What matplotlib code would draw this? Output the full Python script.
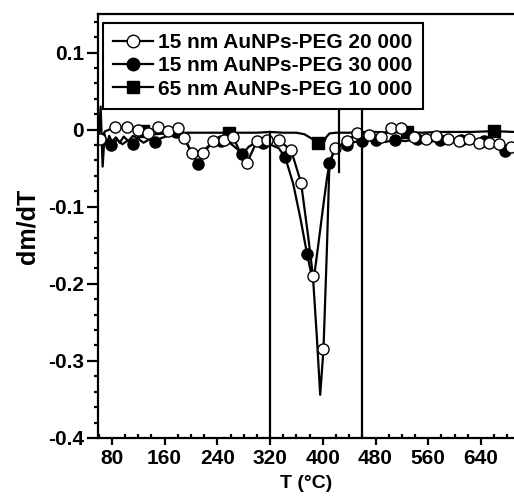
import matplotlib
matplotlib.use('Agg')
import matplotlib.pyplot as plt
from matplotlib.lines import Line2D
from matplotlib.ticker import MultipleLocator

plt.rcParams['font.family'] = ['Liberation Sans', 'DejaVu Sans']
plt.rcParams['font.weight'] = 'bold'

# 15 nm AuNPs-PEG 20 000 (open circles)
T_a = [62, 70, 85, 103, 120, 135, 150, 165, 181, 190, 201, 210, 219, 234, 250, 264, 275, 285,
       300, 315, 334, 352, 367, 378, 385, 391, 396, 401, 406, 410, 418, 437, 452, 470, 488, 503,
       518, 538, 556, 572, 590, 606, 622, 637, 652, 667, 685, 690]
y_a = [-0.012, -0.002, 0.003, 0.003, 0.0, -0.005, 0.003, -0.002, 0.002, -0.011, -0.03, -0.034,
       -0.03, -0.015, -0.013, -0.01, -0.03, -0.043, -0.015, -0.013, -0.014, -0.027, -0.069, -0.14,
       -0.19, -0.27, -0.344, -0.285, -0.16, -0.045, -0.024, -0.015, -0.004, -0.007, -0.009, 0.002,
       0.002, -0.009, -0.012, -0.008, -0.012, -0.015, -0.012, -0.017, -0.017, -0.019, -0.022, -0.02]
mark_T_a = [62, 85, 103, 120, 135, 150, 165, 181, 190, 201, 219, 234, 250, 264, 285, 300, 315,
            334, 352, 367, 385, 401, 418, 437, 452, 470, 488, 503, 518, 538, 556, 572, 590, 606,
            622, 637, 652, 667, 685]

# 15 nm AuNPs-PEG 30 000 (filled circles)
T_b = [62, 67, 72, 79, 88, 96, 104, 112, 120, 128, 136, 145, 155, 165, 178, 190, 200, 211, 222,
       233, 245, 260, 270, 277, 288, 300, 310, 322, 333, 343, 355, 366, 376, 382, 386, 390, 396,
       402, 406, 410, 418, 428, 437, 448, 460, 470, 480, 495, 510, 525, 543, 560, 577, 593, 610,
       627, 644, 662, 677, 690]
y_b = [-0.01, -0.022, -0.014, -0.02, -0.013, -0.019, -0.014, -0.018, -0.012, -0.017, -0.013,
       -0.016, -0.011, -0.008, -0.003, -0.012, -0.028, -0.045, -0.025, -0.016, -0.015, -0.018,
       -0.025, -0.032, -0.022, -0.016, -0.017, -0.02, -0.024, -0.036, -0.07, -0.115, -0.161,
       -0.185, -0.195, -0.17, -0.13, -0.09, -0.065, -0.043, -0.026, -0.02, -0.02, -0.016, -0.015,
       -0.012, -0.013, -0.016, -0.013, -0.015, -0.012, -0.016, -0.014, -0.017, -0.014, -0.016,
       -0.015, -0.02, -0.028, -0.025]
mark_T_b = [79, 112, 145, 178, 211, 245, 277, 310, 343, 376, 410, 437, 460, 480, 510, 543, 577,
            610, 644, 677]

# 65 nm AuNPs-PEG 10 000 (filled squares)
T_c = [60, 63, 66, 69, 72, 76, 80, 86, 92, 98, 105, 112, 120, 127, 135, 145, 160, 180, 200, 220,
       240, 258, 280, 300, 320, 340, 360, 372, 382, 392, 400, 405, 410, 420, 440, 460, 480, 500,
       527, 550, 575, 600, 625, 659, 690]
y_c = [-0.012, 0.03, -0.048, -0.006, -0.02, -0.008, -0.016, -0.01, -0.017, -0.009, -0.015,
       -0.008, -0.012, -0.002, -0.008, -0.006, -0.005, -0.004, -0.004, -0.004, -0.004, -0.004,
       -0.004, -0.004, -0.003, -0.004, -0.004, -0.006, -0.011, -0.017, -0.02, -0.01, -0.005,
       -0.004, -0.004, -0.003, -0.003, -0.004, -0.003, -0.004, -0.003, -0.003, -0.003, -0.002,
       -0.003]
mark_T_c = [127, 258, 392, 527, 659]

labels = ['15 nm AuNPs-PEG 20 000', '15 nm AuNPs-PEG 30 000', '65 nm AuNPs-PEG 10 000']

# vertical guide lines (x, ymin, ymax)
vlines = [(320, -0.4, -0.003), (460, -0.4, 0.025), (425, -0.055, 0.025)]

fig = plt.figure(figsize=(5.14, 4.98), dpi=100)
ax = fig.add_axes([0.1907, 0.1205, 0.8093, 0.8514])

ms = 8
ax.plot(T_c, y_c, '-', color='black', lw=1.6, marker='s', ms=ms, mfc='black', mec='black',
        markevery=[T_c.index(t) for t in mark_T_c])
ax.plot(T_b, y_b, '-', color='black', lw=1.6, marker='o', ms=ms, mfc='black', mec='black',
        markevery=[T_b.index(t) for t in mark_T_b])
ax.plot(T_a, y_a, '-', color='black', lw=1.6, marker='o', ms=ms, mfc='white', mec='black',
        mew=1.0, markevery=[T_a.index(t) for t in mark_T_a])

for x, lo, hi in vlines:
    ax.plot([x, x], [lo, hi], color='black', lw=1.6)

ax.set_xlim(59, 690)
ax.set_ylim(-0.4, 0.15)
ax.xaxis.set_major_locator(MultipleLocator(80))
ax.xaxis.set_minor_locator(MultipleLocator(20))
ax.yaxis.set_minor_locator(MultipleLocator(0.02))
ax.set_yticks([0.1, 0, -0.1, -0.2, -0.3, -0.4])
ax.set_yticklabels(['0.1', '0', '-0.1', '-0.2', '-0.3', '-0.4'])

for s in ['left', 'bottom', 'top']:
    ax.spines[s].set_linewidth(1.6)
ax.spines['right'].set_visible(False)

ax.tick_params(axis='x', which='major', direction='out', length=5, width=1.6,
               labelsize=15, pad=3)
ax.tick_params(axis='x', which='minor', direction='in', length=3, width=1.6)
ax.tick_params(axis='y', which='major', direction='out', length=8, width=1.6,
               labelsize=15, pad=2)
ax.tick_params(axis='y', which='minor', direction='out', length=3, width=1.6)

ax.set_xlabel('T (°C)', fontsize=14, fontweight='bold', labelpad=5)
ax.set_ylabel('dm/dT', fontsize=18, fontweight='bold', labelpad=6)

handles = [
    Line2D([], [], color='black', lw=1.6, marker='o', ms=9, mfc='white', mec='black'),
    Line2D([], [], color='black', lw=1.6, marker='o', ms=9, mfc='black', mec='black'),
    Line2D([], [], color='black', lw=1.6, marker='s', ms=9, mfc='black', mec='black'),
]
leg = ax.legend(handles, labels, loc='upper left', bbox_to_anchor=(0.012, 0.979),
                borderaxespad=0, fancybox=False, framealpha=1, edgecolor='black',
                prop={'size': 15, 'weight': 'bold'}, handlelength=1.9, handletextpad=0.25,
                labelspacing=0.2, borderpad=0.5)
leg.get_frame().set_linewidth(1.5)
leg.set_zorder(5)

fig.savefig('out.png', dpi=100)
